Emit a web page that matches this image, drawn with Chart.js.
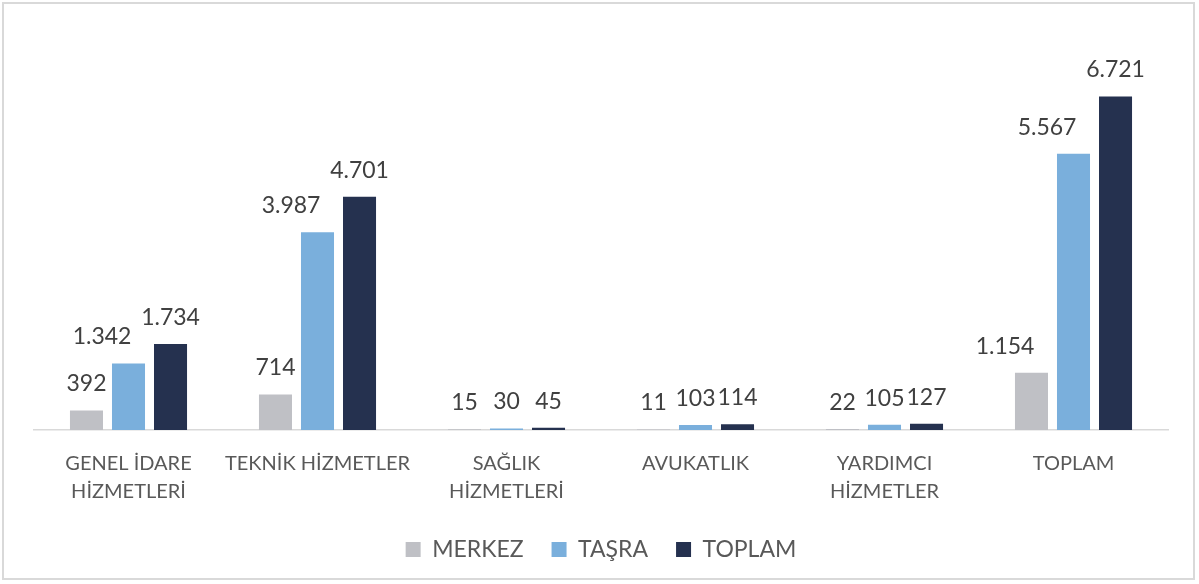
<!DOCTYPE html>
<html>
<head>
<meta charset="utf-8">
<script src="https://cdn.jsdelivr.net/npm/chart.js@4.4.0/dist/chart.umd.min.js"></script>
<style>
  html, body { margin: 0; padding: 0; background: #fff; overflow: hidden; }
  #frame {
    position: absolute; left: 2px; top: 2px;
    width: 1193px; height: 578px;
    border: 2px solid #d9d9d9; box-sizing: border-box;
    pointer-events: none;
  }
  #ourChart { position: absolute; left: 4px; top: 4px; }
</style>
</head>
<body>
<canvas id="ourChart"></canvas>
<div id="frame"></div>
<script>
const categories = [
  ['GENEL İDARE', 'HİZMETLERİ'],
  'TEKNİK HİZMETLER',
  ['SAĞLIK', 'HİZMETLERİ'],
  'AVUKATLIK',
  ['YARDIMCI', 'HİZMETLER'],
  'TOPLAM'
];
const merkez = [392, 714, 15, 11, 22, 1154];
const tasra = [1342, 3987, 30, 103, 105, 5567];
const toplam = [1734, 4701, 45, 114, 127, 6721];

// sayıyı 1.734 şeklinde yaz
function fmt(v) {
  return v.toString().replace(/\B(?=(\d{3})+(?!\d))/g, '.');
}

// barların üstüne değer yazan basit eklenti
// uzun etiket yanındakiyle çakışırsa biraz sola kayar (Excel gibi)
const valueLabels = {
  id: 'valueLabels',
  afterDatasetsDraw(chart) {
    const ctx = chart.ctx;
    ctx.save();
    ctx.font = '23px Lato';
    ctx.fillStyle = '#404040';
    ctx.textAlign = 'center';
    ctx.textBaseline = 'bottom';
    const n = chart.data.labels.length;
    const dsCount = chart.data.datasets.length;
    for (let j = 0; j < n; j++) {
      const items = [];
      for (let i = 0; i < dsCount; i++) {
        const bar = chart.getDatasetMeta(i).data[j];
        const txt = fmt(chart.data.datasets[i].data[j]);
        items.push({ txt, x: bar.x, y: bar.y, w: ctx.measureText(txt).width });
      }
      items.forEach((it, k) => {
        let dx = 0;
        const next = items[k + 1];
        if (next && it.txt.length > 3 && it.x + it.w / 2 > next.x - next.w / 2) {
          dx = -0.45 * it.w;
        }
        ctx.fillText(it.txt, it.x + dx, it.y - 15);
      });
    }
    ctx.restore();
  }
};

const ourCanvas = document.getElementById('ourChart');
ourCanvas.width = 1189;
ourCanvas.height = 567;

const chartElement = new Chart(ourCanvas, {
  type: 'bar',
  data: {
    labels: categories,
    datasets: [
      { label: 'MERKEZ', data: merkez, backgroundColor: '#bfc0c5' },
      { label: 'TAŞRA', data: tasra, backgroundColor: '#7aafdc' },
      { label: 'TOPLAM', data: toplam, backgroundColor: '#25314f' }
    ]
  },
  options: {
    responsive: false,
    animation: false,
    categoryPercentage: 0.667,
    barPercentage: 0.786,
    layout: { padding: { left: 30, right: 25, top: 29, bottom: 0 } },
    scales: {
      y: { display: false, min: 0, max: 8000 },
      x: {
        grid: { display: false, drawTicks: false },
        border: { display: true, color: '#d9d9d9', width: 1.5 },
        ticks: {
          color: '#595959',
          font: { family: 'Lato', size: 20, lineHeight: 1.4 },
          padding: 20,
          maxRotation: 0,
          autoSkip: false
        },
        afterFit(scale) { scale.height -= 16; }
      }
    },
    plugins: {
      tooltip: { enabled: false },
      legend: {
        position: 'bottom',
        labels: {
          color: '#595959',
          font: { family: 'Lato', size: 23 },
          boxWidth: 15,
          boxHeight: 15,
          padding: 28
        }
      }
    }
  },
  plugins: [valueLabels]
});
</script>
</body>
</html>
